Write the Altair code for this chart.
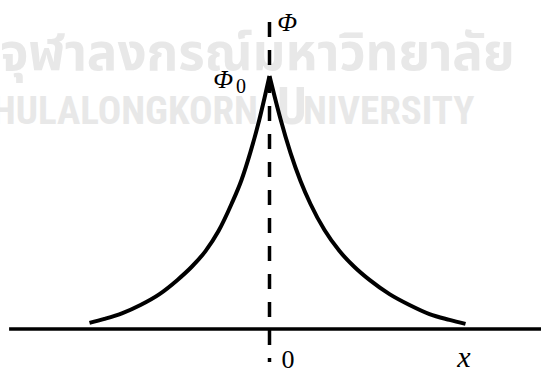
import altair as alt
import pandas as pd

# Potential profile Φ(x): two branches meeting in a cusp at x = 0 (Φ in units of Φ0)
left_x = [-4.50, -4.125, -3.675, -3.225, -2.75, -2.30, -1.95, -1.60, -1.275, -0.95, -0.70, -0.475, -0.25, -0.125, 0.0]
left_phi = [0.024, 0.040, 0.063, 0.095, 0.138, 0.194, 0.245, 0.308, 0.387, 0.494, 0.589, 0.700, 0.830, 0.913, 1.0]
right_x = [0.0, 0.125, 0.275, 0.525, 0.775, 1.025, 1.375, 1.75, 2.125, 2.5, 3.0, 3.5, 4.0, 4.5, 4.9]
right_phi = [1.0, 0.921, 0.830, 0.696, 0.585, 0.494, 0.391, 0.308, 0.245, 0.194, 0.138, 0.095, 0.059, 0.036, 0.020]

# Axes drawn as plain lines
x_axis_start = -6.51
x_axis_end = 6.79
phi_axis_top = 1.213
phi_axis_bottom = -0.130

# Math labels
italic_text = ["Φ", "Φ", "x"]
italic_x = [0.44, -1.16, 4.86]
italic_phi = [1.209, 0.984, -0.115]
italic_size = [26, 26, 30]
sub_text = ["0"]
sub_x = [-0.71]
sub_phi = [0.957]
sub_size = [20]
tick_text = ["0"]
tick_x = [0.46]
tick_phi = [-0.123]
tick_size = [26]

# Faint background watermark
wm_thai = "จุฬาลงกรณ์มหาวิทยาลัย"
wm_en = ["CHULALONGKORN", "U", "NIVERSITY"]
wm_en_x = [-0.29, 0.19, 0.84]
wm_en_align = ["right", "left", "left"]
wm_en_size = [39, 52, 39]
wm_phi_thai = 1.024
wm_phi_en = 0.810
wm_x_thai = -6.7375

X_DOMAIN = [-6.7375, 6.7875]
PHI_DOMAIN = [-0.170, 1.3004]

xs = alt.Scale(domain=X_DOMAIN, nice=False, zero=False)
ys = alt.Scale(domain=PHI_DOMAIN, nice=False, zero=False)

def X(field="x"):
    return alt.X(f"{field}:Q", scale=xs, axis=None)

def Y(field="phi"):
    return alt.Y(f"{field}:Q", scale=ys, axis=None)

WM_COLOR = "#e8e8e8"

thai_layer = alt.Chart(pd.DataFrame({"t": [wm_thai], "x": [wm_x_thai], "phi": [wm_phi_thai]})).mark_text(
    align="left", baseline="alphabetic", font="Noto Sans Thai, Noto Sans, sans-serif",
    fontSize=51, fontWeight="bold", color=WM_COLOR
).encode(x=X(), y=Y(), text="t:N")

en_layers = []
for t, xv, al, sz in zip(wm_en, wm_en_x, wm_en_align, wm_en_size):
    en_layers.append(
        alt.Chart(pd.DataFrame({"t": [t], "x": [xv], "phi": [wm_phi_en]})).mark_text(
            align=al, baseline="alphabetic",
            font="Liberation Sans Narrow, Roboto Condensed, Liberation Sans, sans-serif",
            fontSize=sz, fontWeight="bold", color=WM_COLOR
        ).encode(x=X(), y=Y(), text="t:N")
    )

curve_df = pd.DataFrame({
    "x": left_x + right_x,
    "phi": left_phi + right_phi,
    "branch": ["left"] * len(left_x) + ["right"] * len(right_x),
})
curve = alt.Chart(curve_df).mark_line(
    interpolate="monotone", color="black", strokeWidth=4, strokeCap="butt"
).encode(x=X(), y=Y(), detail="branch:N")

x_axis = alt.Chart(pd.DataFrame({"x": [x_axis_start], "x2": [x_axis_end], "phi": [0.0]})).mark_rule(
    color="black", strokeWidth=3.5
).encode(x=X(), x2="x2:Q", y=Y())

phi_axis = alt.Chart(pd.DataFrame({"x": [0.0], "phi": [phi_axis_top], "phi2": [phi_axis_bottom]})).mark_rule(
    color="black", strokeWidth=3.5, strokeDash=[15, 13]
).encode(x=X(), y=Y(), y2="phi2:Q")

def labels(texts, xv, pv, sizes, style):
    df = pd.DataFrame({"t": texts, "x": xv, "phi": pv, "s": sizes})
    return alt.Chart(df).mark_text(
        font="Liberation Serif", fontStyle=style, color="black", baseline="middle", align="center"
    ).encode(x=X(), y=Y(), text="t:N", size=alt.Size("s:Q", scale=None, legend=None))

chart = alt.layer(
    thai_layer, *en_layers, x_axis, phi_axis, curve,
    labels(italic_text, italic_x, italic_phi, italic_size, "italic"),
    labels(sub_text, sub_x, sub_phi, sub_size, "normal"),
    labels(tick_text, tick_x, tick_phi, tick_size, "normal"),
).properties(
    width=541, height=372, padding=0, autosize=alt.AutoSizeParams(type="none")
).configure_view(stroke=None)

chart.save("out.html", embed_options={"renderer": "svg", "actions": False})
